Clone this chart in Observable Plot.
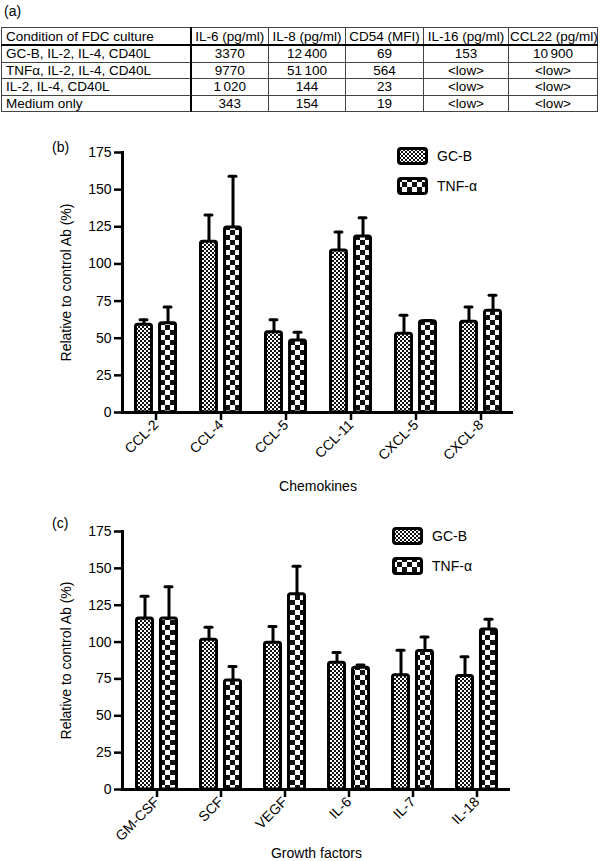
<!DOCTYPE html>
<html><head><meta charset="utf-8">
<script src="https://cdn.jsdelivr.net/npm/d3@7"></script>
<script src="https://cdn.jsdelivr.net/npm/@observablehq/plot@0.6"></script>
<style>
body{margin:0;background:#fff;}
#root{position:relative;width:600px;height:861px;overflow:hidden;font-family:"Liberation Sans",Arial,Helvetica,sans-serif;color:#000;background:#fff;}
.lbl{position:absolute;font-size:14px;line-height:14px;white-space:nowrap;}
#tbl{position:absolute;left:1px;top:27px;border-collapse:collapse;table-layout:fixed;font-size:13.5px;width:596px;}
#tbl td{border:1px solid #444;padding:0 1px;height:15.5px;line-height:15px;white-space:nowrap;text-align:center;overflow:visible;}
#tbl td:first-child{text-align:left;padding-left:4px;border-right:2px solid #000;}
#tbl tr.h td{border-bottom:2px solid #000;height:16px;}
.chart{position:absolute;left:0;}
.sw{position:absolute;}
</style>
</head><body><div id="root"></div>
<script>
// ---------- Table (a) data ----------
const tableHeaders = ["Condition of FDC culture","IL-6 (pg/ml)","IL-8 (pg/ml)","CD54 (MFI)","IL-16 (pg/ml)","CCL22 (pg/ml)"];
const conditions = ["GC-B, IL-2, IL-4, CD40L","TNFα, IL-2, IL-4, CD40L","IL-2, IL-4, CD40L","Medium only"];
const il6Vals   = ["3370","9770","1\u2009020","343"];
const il8Vals   = ["12\u2009400","51\u2009100","144","154"];
const cd54Vals  = ["69","564","23","19"];
const il16Vals  = ["153","<low>","<low>","<low>"];
const ccl22Vals = ["10\u2009900","<low>","<low>","<low>"];

// ---------- Chart (b) data ----------
const chemokines = ["CCL-2","CCL-4","CCL-5","CCL-11","CXCL-5","CXCL-8"];
const chemoGCB    = [59, 115, 54, 109, 53, 61];
const chemoGCBsd  = [3.5, 18, 8.5, 12.5, 12.5, 10];
const chemoTNF    = [60, 124.5, 48.5, 118.5, 61.5, 68.5];
const chemoTNFsd  = [11, 34.5, 5.5, 12.5, 0.5, 10.5];

// ---------- Chart (c) data ----------
const growthFactors = ["GM-CSF","SCF","VEGF","IL-6","IL-7","IL-18"];
const growthGCB    = [116, 101.5, 99.5, 86, 77.5, 77];
const growthGCBsd  = [15, 8.5, 11, 7, 17, 13];
const growthTNF    = [116, 74, 132.5, 82.5, 94, 108.5];
const growthTNFsd  = [21.5, 9.5, 19, 2, 9.5, 7];

const seriesNames = ["GC-B","TNF-α"];
const yTicks = [0,25,50,75,100,125,150,175];
const yTitle = "Relative to control Ab (%)";

const root = document.getElementById("root");

// ---------- Table ----------
const tbl = document.createElement("table");
tbl.id = "tbl";
const cg = document.createElement("colgroup");
[189,78,77,78,85,89].forEach(w=>{const c=document.createElement("col");c.style.width=w+"px";cg.appendChild(c);});
tbl.appendChild(cg);
function addRow(cells, cls){
  const tr=document.createElement("tr"); if(cls) tr.className=cls;
  cells.forEach(t=>{const td=document.createElement("td");td.textContent=t;tr.appendChild(td);});
  tbl.appendChild(tr);
}
addRow(tableHeaders,"h");
conditions.forEach((c,i)=>addRow([c,il6Vals[i],il8Vals[i],cd54Vals[i],il16Vals[i],ccl22Vals[i]]));
root.appendChild(tbl);

function label(text,left,top){const d=document.createElement("div");d.className="lbl";d.textContent=text;d.style.left=left+"px";d.style.top=top+"px";root.appendChild(d);}
label("(a)",4,4);
label("(b)",52,140);
label("(c)",52,516);

let pid = 0;
function addPatterns(sel){
  const id = ++pid;
  const defs = sel.insert("defs",":first-child");
  const p1 = defs.append("pattern").attr("id","gcb"+id).attr("patternUnits","userSpaceOnUse").attr("width",4).attr("height",4);
  p1.append("rect").attr("width",4).attr("height",4).attr("fill","#fff");
  p1.append("rect").attr("width",2).attr("height",2).attr("fill","#111");
  p1.append("rect").attr("x",2).attr("y",2).attr("width",2).attr("height",2).attr("fill","#111");
  const p2 = defs.append("pattern").attr("id","tnf"+id).attr("patternUnits","userSpaceOnUse").attr("width",10).attr("height",10);
  p2.append("rect").attr("width",10).attr("height",10).attr("fill","#fff");
  p2.append("rect").attr("width",5).attr("height",5).attr("fill","#111");
  p2.append("rect").attr("x",5).attr("y",5).attr("width",5).attr("height",5).attr("fill","#111");
  return id;
}

function legend(left, top1, top2){
  [top1, top2].forEach((t,k)=>{
    const s = d3.create("svg").attr("width",32).attr("height",19).attr("class","sw")
      .style("left",left+"px").style("top",t+"px");
    const id = addPatterns(s);
    s.append("rect").attr("x",1.5).attr("y",1.5).attr("width",28).attr("height",15).attr("rx",2.5)
      .attr("fill",`url(#${k===0?"gcb":"tnf"}${id})`).attr("stroke","#000").attr("stroke-width",3);
    root.appendChild(s.node());
    label(seriesNames[k], left+40, t+2);
  });
}

function drawChart(o){
  const rows = o.cats.map((c,i)=>({cat:c, gc:o.gc[i], gcTop:o.gc[i]+o.gcSd[i], tnf:o.tnf[i], tnfTop:o.tnf[i]+o.tnfSd[i]}));
  const width=600, ml=122;
  const step = (width-ml-o.mr)/(o.cats.length - o.pi + 2*o.po);
  const bw = step*(1-o.pi);
  const half = bw/2;
  const edge = 1.5, gap = 4;
  const cG = (edge + half - gap)/2;
  const cT = bw - cG;
  const capHalf = 3.5;
  const stroke = {stroke:"#000", strokeWidth:3};
  const svgId = pid + 1;
  const plot = Plot.plot({
    width, height:o.height, marginLeft:ml, marginRight:o.mr, marginTop:o.mt, marginBottom:o.mb,
    style:{fontFamily:'"Liberation Sans",Arial,Helvetica,sans-serif', fontSize:"14px", color:"#000", background:"transparent", overflow:"visible"},
    x:{type:"band", domain:o.cats, paddingInner:o.pi, paddingOuter:o.po},
    y:{domain:[0,175]},
    marks:[
      Plot.ruleX(rows,{x:"cat", y1:"gc", y2:"gcTop", dx:cG-half, ...stroke}),
      Plot.ruleX(rows,{x:"cat", y1:"tnf", y2:"tnfTop", dx:cT-half, ...stroke}),
      Plot.tickY(rows,{x:"cat", y:"gcTop", insetLeft:cG-capHalf, insetRight:bw-cG-capHalf, strokeLinecap:"round", ...stroke}),
      Plot.tickY(rows,{x:"cat", y:"tnfTop", insetLeft:cT-capHalf, insetRight:bw-cT-capHalf, strokeLinecap:"round", ...stroke}),
      Plot.barY(rows,{x:"cat", y:"gc", insetLeft:edge, insetRight:half+gap, rx:2, fill:`url(#gcb${svgId})`, ...stroke}),
      Plot.barY(rows,{x:"cat", y:"tnf", insetLeft:half+gap, insetRight:edge, rx:2, fill:`url(#tnf${svgId})`, ...stroke}),
      Plot.frame({anchor:"left", strokeWidth:3}),
      Plot.ruleY([0],{strokeWidth:3}),
      Plot.axisY({ticks:yTicks, tickSize:8, tickPadding:3, strokeWidth:2.5, fontSize:14, label:yTitle, labelAnchor:"center", labelOffset:61, labelArrow:"none"}),
      Plot.axisX({tickSize:8, tickPadding:2, strokeWidth:2.5, tickRotate:-45, fontSize:14, label:o.xTitle, labelAnchor:"center", labelOffset:o.xlo, labelArrow:"none"})
    ]
  });
  const sel = d3.select(plot);
  addPatterns(sel);
  sel.attr("class","chart").style("position","absolute").style("left","0px").style("top",o.top+"px");
  root.appendChild(plot);
}

drawChart({cats:chemokines, gc:chemoGCB, gcSd:chemoGCBsd, tnf:chemoTNF, tnfSd:chemoTNFsd,
  xTitle:"Chemokines", top:120, height:380, mt:32, mb:88, mr:87, pi:0.34, po:0.165, xlo:78});
drawChart({cats:growthFactors, gc:growthGCB, gcSd:growthGCBsd, tnf:growthTNF, tnfSd:growthTNFsd,
  xTitle:"Growth factors", top:500, height:361, mt:31, mb:72, mr:90, pi:0.33, po:0.19, xlo:68});

legend(397, 147, 177);
legend(392, 527, 557);
</script>
</body></html>
